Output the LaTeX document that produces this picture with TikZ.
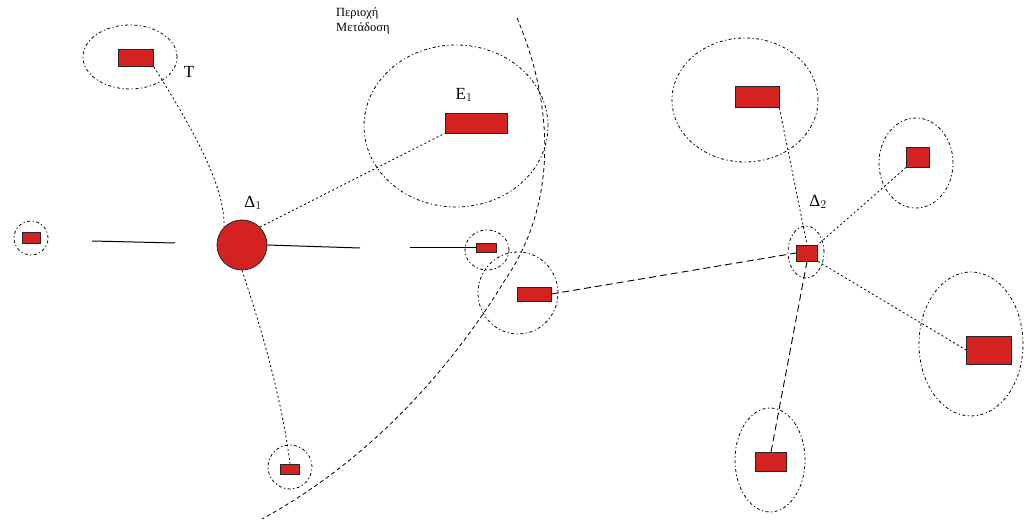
\documentclass[tikz,border=0pt]{standalone}
\usepackage{fontspec}
\setmainfont{Liberation Serif}
\usetikzlibrary{shapes.geometric}
\definecolor{devred}{HTML}{D42222}
\tikzset{
  dev/.style={draw=black!85, fill=devred, line width=0.8pt, inner sep=0pt},
  zone/.style={draw, ellipse, line width=0.8pt, dash pattern=on 3pt off 2.5pt on 1.2pt off 2.5pt, inner sep=0pt},
  link/.style={line width=0.8pt, dash pattern=on 2pt off 2.5pt},
  dlink/.style={line width=0.9pt, dash pattern=on 7pt off 4pt},
  solid link/.style={line width=1pt},
  lbl/.style={font=\fontsize{17}{19}\selectfont, inner sep=0pt}
}
\begin{document}
\begin{tikzpicture}[x=1pt,y=-1pt]
\useasboundingbox (0,0) rectangle (1026,521);

% coverage boundary
\draw[line width=0.8pt, dash pattern=on 4pt off 3pt]
  (517,18) .. controls (552,100) and (560,200) .. (505,280)
  .. controls (450,370) and (370,460) .. (262,519);
\node[font=\fontsize{12.5}{15}\selectfont, align=left, anchor=north west, inner sep=0pt] (area) at (336,7) {Περιοχή\\Μετάδοση};

% zones
\node[zone, minimum width=94pt, minimum height=64pt] (zT) at (130,57) {};
\node[zone, minimum width=34pt, minimum height=34pt] (zL) at (31,238) {};
\node[zone, minimum width=184pt, minimum height=162pt] (zE) at (456,126) {};
\node[zone, minimum width=44pt, minimum height=40pt] (zA) at (487,250) {};
\node[zone, minimum width=80pt, minimum height=82pt] (zB) at (518,293) {};
\node[zone, minimum width=44pt, minimum height=44pt] (zC) at (290,467) {};
\node[zone, minimum width=146pt, minimum height=124pt] (zR1) at (745,100) {};
\node[zone, minimum width=74pt, minimum height=90pt] (zR2) at (916,163) {};
\node[zone, minimum width=104pt, minimum height=144pt] (zR3) at (971,344) {};
\node[zone, minimum width=70pt, minimum height=104pt] (zR4) at (770,460) {};
\node[zone, minimum width=36pt, minimum height=52pt] (zD2) at (806,252) {};

% devices
\node[dev, minimum width=35pt, minimum height=17pt] (T) at (136,58) {};
\node[dev, circle, minimum size=50pt] (D1) at (242,245) {};
\node[dev, minimum width=18pt, minimum height=11pt] (L) at (31,238) {};
\node[dev, minimum width=62pt, minimum height=20pt] (E1) at (476,123) {};
\node[dev, minimum width=20pt, minimum height=9pt] (A) at (486,248) {};
\node[dev, minimum width=34pt, minimum height=14pt] (B) at (534,294) {};
\node[dev, minimum width=19pt, minimum height=10pt] (C) at (290,469) {};
\node[dev, minimum width=21pt, minimum height=16pt] (D2) at (807,253) {};
\node[dev, minimum width=44pt, minimum height=21pt] (R1) at (757,97) {};
\node[dev, minimum width=23pt, minimum height=20pt] (R2) at (918,157) {};
\node[dev, minimum width=45pt, minimum height=28pt] (R3) at (989,350) {};
\node[dev, minimum width=31pt, minimum height=19pt] (R4) at (771,462) {};

% labels
\node[lbl] (lT) at (189,72) {Τ};
\node[lbl] (lD1) at (253,203) {Δ$_{1}$};
\node[lbl] (lE1) at (464,95) {Ε$_{1}$};
\node[lbl] (lD2) at (818,202) {Δ$_{2}$};

% links around D1
\draw[link] (T.south east) .. controls (200,140) and (225,190) .. (D1.north west);
\draw[link] (D1.north east) -- (E1.south west);
\coordinate (l1a) at (92,241);
\coordinate (l1b) at (175,243);
\draw[solid link] (l1a) -- (l1b);
\coordinate (r1b) at (360,248);
\draw[solid link] (D1.east) -- (r1b);
\coordinate (r2a) at (410,248);
\draw[solid link] (r2a) -- (A.west);
\draw[link] (D1.south) .. controls (262,330) and (282,400) .. (C.north);

% links around D2
\draw[dlink] (B.east) -- (D2.west);
\draw[link] (R1.south east) -- (D2.north);
\draw[link] (R2.south west) -- (D2.north east);
\draw[link] (D2.south east) -- (R3.west);
\draw[dlink] (D2.south) -- (R4.north);
\end{tikzpicture}
\end{document}
